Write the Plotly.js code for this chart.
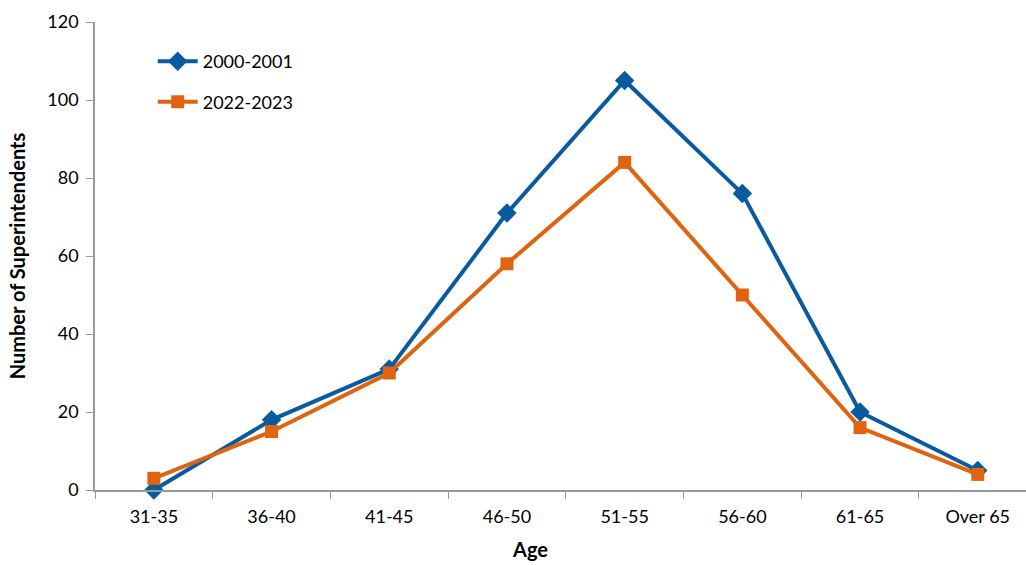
<!DOCTYPE html>
<html><head><meta charset="utf-8">
<script src="https://cdn.plot.ly/plotly-3.0.1.min.js"></script>
<style>body{margin:0;background:#fff}#chart{width:1026px;height:565px}</style>
</head><body><div id="chart"></div>
<script>
const categories = ["31-35","36-40","41-45","46-50","51-55","56-60","61-65","Over 65"];
const series2000 = [0, 18, 31, 71, 105, 76, 20, 5];
const series2022 = [3, 15, 30, 58, 84, 50, 16, 4];
const FONT = "Lato, 'Open Sans', sans-serif";
const traces = [
  {x: categories, y: series2000, name: "2000-2001", legendgroup: "a", type: "scatter", mode: "lines+markers",
   line: {color: "#0a5aa0", width: 4}, marker: {symbol: "diamond", size: 15, color: "#0a5aa0"}, cliponaxis: false},
  {x: categories, y: series2022, name: "2022-2023", legendgroup: "b", type: "scatter", mode: "lines+markers",
   line: {color: "#e06410", width: 4}, marker: {symbol: "square", size: 13, color: "#e06410"}, cliponaxis: false}
];
const layout = {
  width: 1026, height: 565,
  margin: {l: 95, r: 0, t: 22, b: 75},
  paper_bgcolor: "#fff", plot_bgcolor: "#fff",
  font: {family: FONT, size: 18, color: "#000"},
  showlegend: true,
  legend: {x: 0.062, y: 0.955, xanchor: "left", yanchor: "top", bgcolor: "rgba(0,0,0,0)",
           font: {size: 18}, tracegroupgap: 14, traceorder: "grouped", itemwidth: 40},
  xaxis: {type: "category", range: [-0.5, 7.41], tickson: "boundaries", ticks: "outside", ticklen: 7,
          tickcolor: "#999", showline: true, linecolor: "#999", linewidth: 1.5, showgrid: false, zeroline: false,
          ticklabelstandoff: 10, tickfont: {size: 18}},
  yaxis: {range: [0, 120], dtick: 20, ticks: "outside", ticklen: 7, tickcolor: "#999", showline: true,
          linecolor: "#999", linewidth: 1.5, showgrid: false, zeroline: false, ticklabelstandoff: 4,
          title: {text: "<b>Number of Superintendents</b>", font: {size: 20}, standoff: 16}, tickfont: {size: 18}},
  annotations: [{text: "<b>Age</b>", xref: "paper", yref: "paper", x: 0.467, y: -0.127,
                 xanchor: "center", yanchor: "middle", showarrow: false, font: {size: 20}}]
};
Plotly.newPlot("chart", traces, layout, {displayModeBar: false});
</script></body></html>
